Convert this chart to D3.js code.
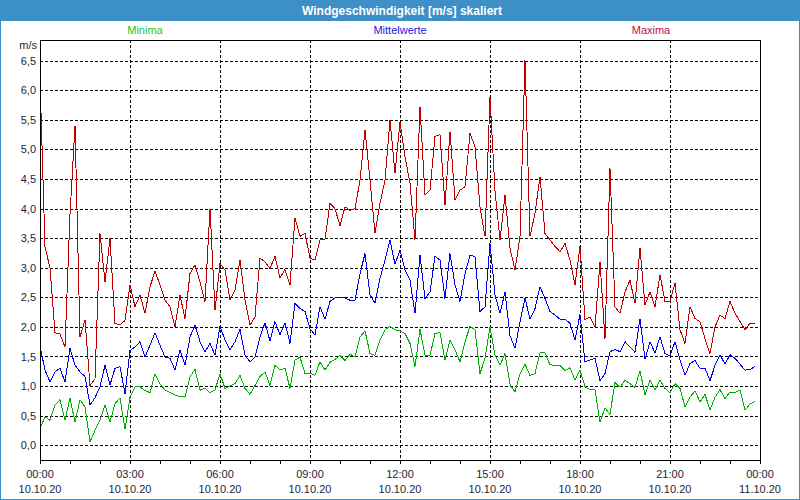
<!DOCTYPE html>
<html>
<head>
<meta charset="utf-8">
<script src="https://cdn.jsdelivr.net/npm/d3@7"></script>
<style>
  html, body { margin: 0; padding: 0; background: #fff; }
  svg { display: block; }
  text { font-family: "Liberation Sans Narrow", "Liberation Sans", Arial, sans-serif; }
</style>
</head>
<body>
<svg id="chart" width="800" height="500"></svg>
<script>
// ---- Data (10-minute samples, 10.10.20 00:00 – 23:50) ----
const title = "Windgeschwindigkeit [m/s] skaliert";
const seriesNames = ["Minima", "Mittelwerte", "Maxima"];
const stepMinutes = 10;

const minima = [
  0.28,0.48,0.42,0.68,0.77,0.42,0.80,0.39,0.77,0.65,0.06,0.25,0.42,0.68,0.39,0.70,0.80,0.27,0.81,0.99,
  0.99,0.92,0.89,1.21,1.04,0.93,0.89,0.85,0.82,0.82,1.16,1.28,0.93,0.96,0.89,0.93,1.21,0.96,1.00,1.04,
  1.18,0.96,0.86,1.01,1.16,1.24,1.01,1.35,1.27,1.30,0.96,1.44,1.49,1.21,1.22,1.18,1.41,1.27,1.40,1.45,
  1.52,1.43,1.54,1.49,1.83,1.93,1.55,1.52,1.78,1.95,2.01,1.95,1.93,1.89,1.72,1.33,1.96,1.52,1.52,1.89,
  1.90,1.44,1.78,1.61,1.41,1.75,2.01,1.95,1.21,1.47,2.00,1.52,1.35,1.55,1.03,0.90,1.21,1.37,1.18,1.21,
  1.56,1.56,1.36,1.35,1.35,1.26,1.31,1.10,1.27,0.99,0.94,0.94,0.39,0.63,0.52,1.06,0.98,1.10,1.04,0.98,
  1.26,0.85,1.10,0.94,1.10,0.96,0.89,1.04,0.96,0.65,0.81,0.92,0.73,0.86,0.60,0.81,0.94,0.79,0.90,0.89,
  0.93,0.59,0.70,0.74
];
const mittelwerte = [
  1.68,1.27,1.07,1.24,1.30,1.07,1.64,1.35,1.24,1.16,0.68,0.80,0.99,1.35,1.02,1.30,1.33,0.87,1.60,1.66,
  1.75,1.49,1.69,1.90,1.69,1.49,1.47,1.27,1.61,1.35,1.83,2.03,1.75,1.58,1.72,1.52,2.01,1.78,1.61,1.75,
  1.96,1.52,1.41,1.49,1.83,2.07,1.76,2.09,1.87,2.07,1.72,2.40,2.31,2.26,1.97,1.86,2.34,2.13,2.43,2.49,
  2.49,2.49,2.45,2.45,2.90,3.24,2.54,2.40,2.82,3.13,3.47,3.06,3.30,2.96,2.79,2.23,3.21,2.48,2.59,3.19,
  3.13,2.48,3.24,2.71,2.43,2.90,3.21,3.19,2.26,2.34,3.41,2.54,2.23,2.59,1.85,1.64,2.08,2.49,2.13,2.31,
  2.68,2.48,2.26,2.20,2.13,2.13,2.06,1.78,2.21,1.41,1.44,1.47,1.09,1.21,1.58,1.62,1.58,1.75,1.66,1.57,
  2.14,1.45,1.75,1.56,1.83,1.55,1.51,1.75,1.44,1.18,1.38,1.43,1.30,1.30,1.09,1.35,1.53,1.37,1.53,1.47,
  1.37,1.27,1.28,1.33
];
const maxima = [
  6.20,3.35,3.00,1.90,1.88,1.66,3.90,5.40,1.83,2.12,1.01,1.12,3.58,2.76,3.50,2.06,2.03,2.11,2.71,2.34,
  2.54,2.23,2.68,2.94,2.71,2.45,2.34,2.00,2.54,2.14,2.90,3.05,2.76,2.43,4.00,2.28,3.07,2.96,2.45,2.62,
  3.13,2.45,2.03,2.17,3.16,3.10,2.99,3.19,2.83,2.97,2.71,3.84,3.53,3.58,3.16,3.13,3.47,3.48,4.09,4.00,
  3.71,4.03,3.97,4.00,4.48,5.33,4.48,3.58,4.09,4.48,5.50,4.60,5.47,4.88,4.43,3.47,5.72,4.23,4.31,5.22,
  5.25,4.06,5.30,4.15,4.31,4.37,5.27,5.05,4.03,3.53,5.89,4.30,3.47,4.23,3.33,2.96,3.53,6.51,3.53,3.92,
  4.54,3.58,3.47,3.36,3.27,3.41,3.13,2.71,3.36,2.12,2.17,2.00,3.10,1.80,4.68,2.34,2.23,2.59,2.79,2.40,
  3.33,2.37,2.59,2.34,2.88,2.43,2.43,2.74,1.95,1.72,2.34,2.14,2.09,1.80,1.55,2.00,2.20,2.14,2.43,2.23,
  2.09,1.95,2.06,2.06
];

const yTicks = [0,0.5,1,1.5,2,2.5,3,3.5,4,4.5,5,5.5,6,6.5];
const xTickHours = [0,3,6,9,12,15,18,21,24];
const xTickTimes = ["00:00","03:00","06:00","09:00","12:00","15:00","18:00","21:00","00:00"];
const xTickDates = ["10.10.20","10.10.20","10.10.20","10.10.20","10.10.20","10.10.20","10.10.20","10.10.20","11.10.20"];
const minorHours = d3.range(0, 25, 1);

// ---- Layout / styles ----
const W = 800, H = 500;
const M = { left: 40, right: 760, top: 40, bottom: 460 };
const colors = { Minima: "#00b000", Mittelwerte: "#0000f0", Maxima: "#c00000" };
const legendColors = { Minima: "#18c818", Mittelwerte: "#2020e0", Maxima: "#c01040" };
const legendX = [145, 400, 651];
const labelColor = "#1e1e3a";
const barColor = "#3d8fc7";

const svg = d3.select("#chart");

const x = d3.scaleLinear().domain([0, 24]).range([M.left, M.right]);
const y = d3.scaleLinear().domain([-0.25, 6.85]).range([M.bottom, M.top]);

// background & border
svg.append("rect").attr("x", 0).attr("y", 0).attr("width", W).attr("height", H).attr("fill", "#ffffff");
svg.append("rect").attr("x", 0).attr("y", 0).attr("width", W).attr("height", 21).attr("fill", barColor);
svg.append("rect").attr("x", 0.5).attr("y", 0.5).attr("width", W - 1).attr("height", H - 1)
  .attr("fill", "none").attr("stroke", barColor).attr("stroke-width", 1);

svg.append("text").attr("x", 402).attr("y", 11).attr("text-anchor", "middle")
  .attr("dominant-baseline", "central").attr("fill", "#ffffff")
  .attr("font-size", "12px").attr("font-weight", "bold").text(title);

// legend
seriesNames.forEach((n, i) => {
  svg.append("text").attr("x", legendX[i]).attr("y", 30).attr("text-anchor", "middle")
    .attr("dominant-baseline", "central").attr("fill", legendColors[n])
    .attr("font-size", "11px").text(n);
});

// grid
const grid = svg.append("g").attr("shape-rendering", "crispEdges");
grid.selectAll("line.h").data(yTicks).join("line")
  .attr("x1", M.left).attr("x2", M.right)
  .attr("y1", d => Math.round(y(d)) + 0.5).attr("y2", d => Math.round(y(d)) + 0.5)
  .attr("stroke", "#000").attr("stroke-dasharray", "3,2");
grid.selectAll("line.v").data(xTickHours.slice(1, -1)).join("line")
  .attr("y1", M.top).attr("y2", M.bottom)
  .attr("x1", d => Math.round(x(d)) + 0.5).attr("x2", d => Math.round(x(d)) + 0.5)
  .attr("stroke", "#000").attr("stroke-dasharray", "3,2");

// series lines
const data = { Minima: minima, Mittelwerte: mittelwerte, Maxima: maxima };
const line = d3.line().x((d, i) => x(i * stepMinutes / 60)).y(d => y(d));
["Minima", "Mittelwerte", "Maxima"].forEach(n => {
  svg.append("path").datum(data[n]).attr("d", line)
    .attr("fill", "none").attr("stroke", colors[n]).attr("stroke-width", 1)
    .attr("shape-rendering", "crispEdges");
});

// frame
svg.append("rect").attr("x", M.left + 0.5).attr("y", M.top + 0.5)
  .attr("width", M.right - M.left).attr("height", M.bottom - M.top)
  .attr("fill", "none").attr("stroke", "#000").attr("shape-rendering", "crispEdges");

// y axis labels
const yAxis = d3.axisLeft(y).tickValues(yTicks).tickSize(0).tickPadding(4)
  .tickFormat(d => d3.format(".1f")(d).replace(".", ","));
const gy = svg.append("g").attr("transform", `translate(${M.left},0)`).call(yAxis);
gy.select(".domain").remove();
gy.selectAll("text").attr("font-size", "11px").attr("fill", labelColor)
  .style("font-family", '"Liberation Sans Narrow", "Liberation Sans", Arial, sans-serif');
svg.append("text").attr("x", 37).attr("y", 45).attr("text-anchor", "end")
  .attr("dominant-baseline", "central").attr("fill", labelColor).attr("font-size", "11px").text("m/s");

// x axis: minor ticks + labels
const xAxis = d3.axisBottom(x).tickValues(minorHours).tickSize(4).tickFormat("");
const gx = svg.append("g").attr("transform", `translate(0,${M.bottom})`).call(xAxis);
gx.select(".domain").remove();
gx.selectAll("line").attr("shape-rendering", "crispEdges");

const xl = svg.append("g");
xl.selectAll("text.t").data(xTickHours).join("text")
  .attr("x", d => x(d)).attr("y", 474).attr("text-anchor", "middle")
  .attr("dominant-baseline", "central").attr("fill", labelColor).attr("font-size", "11px")
  .text((d, i) => xTickTimes[i]);
xl.selectAll("text.d").data(xTickHours).join("text")
  .attr("x", d => x(d)).attr("y", 489).attr("text-anchor", "middle")
  .attr("dominant-baseline", "central").attr("fill", labelColor).attr("font-size", "11px")
  .text((d, i) => xTickDates[i]);
</script>
</body>
</html>
